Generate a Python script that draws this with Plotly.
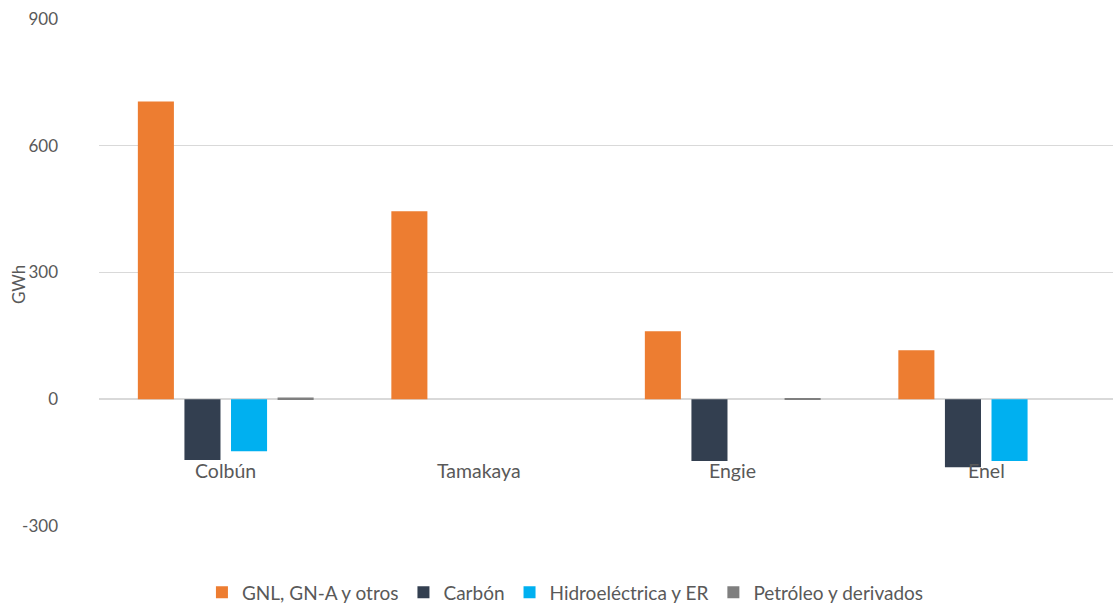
import plotly.graph_objects as go

categories = ["Colbún", "Tamakaya", "Engie", "Enel"]
series_names = ["GNL, GN-A y otros", "Carbón", "Hidroeléctrica y ER", "Petróleo y derivados"]
gnl = [705, 445, 161, 116]
carbon = [-144, 0, -146, -161]
hidro = [-123, 0, 0, -146]
petroleo = [4, 0, 1, 0]
colors = ["#ED7D31", "#333F50", "#00B0F0", "#7F7F7F"]
y_ticks = [-300, 0, 300, 600, 900]
y_ticktext = ["-300", "0", "300", "600", "900"]

FONT = "Lato"

fig = go.Figure()
for name, vals, col in zip(series_names, [gnl, carbon, hidro, petroleo], colors):
    fig.add_trace(go.Bar(x=categories, y=vals, name=name, marker_color=col,
                         marker_line=dict(width=0)))

for c in categories:
    fig.add_annotation(x=c, y=0, xref="x", yref="y", text=c, showarrow=False,
                       yshift=-71, font=dict(family=FONT, size=19.5, color="#595959"))

# y-axis title
fig.add_annotation(x=-0.08, y=0.477, xref="paper", yref="paper", text="GWh",
                   showarrow=False, textangle=-90, xanchor="center", yanchor="middle",
                   font=dict(family=FONT, size=17, color="#595959"))

fig.update_layout(
    width=1113, height=603,
    margin=dict(l=99, r=0, t=19, b=77, autoexpand=False),
    plot_bgcolor="white", paper_bgcolor="white",
    barmode="group", bargap=0.265, bargroupgap=0.226,
    font=dict(family=FONT, size=15, color="#595959"),
    showlegend=True,
    legend=dict(orientation="h", x=0.46, xanchor="center",
                y=-0.131, yanchor="middle",
                font=dict(family=FONT, size=19, color="#595959"),
                traceorder="normal", itemwidth=30, tracegroupgap=0),
    xaxis=dict(showticklabels=False, showgrid=False, zeroline=False, showline=False),
    yaxis=dict(range=[-300, 900], tickvals=y_ticks, ticktext=y_ticktext,
               showgrid=True, gridcolor="#D9D9D9",
               gridwidth=1, zeroline=True, zerolinecolor="#D9D9D9", zerolinewidth=1.5,
               ticks="", ticklabelstandoff=40,
               tickfont=dict(family=FONT, size=17, color="#595959")),
)

fig.write_html("out.html")
